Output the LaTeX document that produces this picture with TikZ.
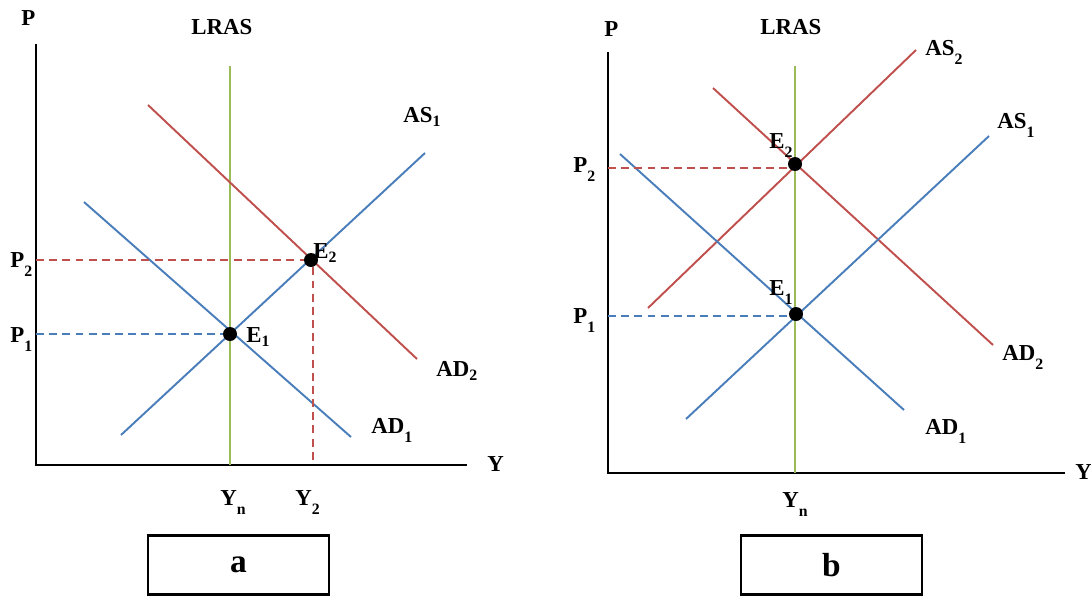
\documentclass[tikz,border=0pt]{standalone}
\usepackage{fontspec}
\setmainfont{Liberation Serif}
\definecolor{cblue}{HTML}{4A7EBB}
\definecolor{cred}{HTML}{C0504D}
\definecolor{cgreen}{HTML}{9BBB59}
\newcommand\subN[2]{#1\raisebox{-2.3pt}{\fontsize{9}{9}\selectfont #2}}
\newcommand\subL[2]{#1\raisebox{-5.3pt}{\fontsize{9}{9}\selectfont #2}}
\begin{document}
\begin{tikzpicture}[x=0.02cm,y=-0.02cm,
  lbl/.style={font=\fontsize{13}{14}\selectfont\bfseries, inner sep=0pt, anchor=base west},
  axisline/.style={black, line width=1.4pt},
  curve/.style={line width=1.1pt},
  lras/.style={cgreen, line width=1.1pt},
  guide/.style={line width=1.1pt, dash pattern=on 4.5pt off 3pt},
  eqdot/.style={circle, fill=black, inner sep=0pt, minimum size=14*0.02cm},
  caption/.style={draw=black, line width=1.4pt, minimum width=181*0.02cm, minimum height=59*0.02cm, font=\fontsize{19}{20}\selectfont\bfseries, inner sep=0pt}]
\useasboundingbox (0,0) rectangle (1091,599);

% ---------- Panel a ----------
\coordinate (aO) at (36,465);
\coordinate (aYtop) at (36,44);
\coordinate (aXend) at (467,465);
\draw[axisline] (aYtop) -- (aO) -- (aXend);
\coordinate (aL1) at (230,66);
\coordinate (aL2) at (230,465);
\draw[lras] (aL1) -- (aL2);
\coordinate (aAS1s) at (121,435);
\coordinate (aAS1e) at (425,153);
\draw[curve, cblue] (aAS1s) -- (aAS1e);
\coordinate (aAD1s) at (84,202);
\coordinate (aAD1e) at (351,437);
\draw[curve, cblue] (aAD1s) -- (aAD1e);
\coordinate (aAD2s) at (148,105);
\coordinate (aAD2e) at (417,359);
\draw[curve, cred] (aAD2s) -- (aAD2e);
\node[eqdot] (aE1) at (230,334) {};
\node[eqdot] (aE2) at (311,260) {};
\coordinate (aP1) at (36,334);
\coordinate (aP2) at (36,260);
\coordinate (aY2) at (313,465);
\draw[guide, cblue] (aP1) -- (aE1.west);
\draw[guide, cred] (aP2) -- (aE2.west);
\draw[guide, cred] (aE2.south -| aY2) -- (aY2);

\node[lbl] (aPlab) at (21,25) {P};
\node[lbl] (aLRAS) at (191,34) {LRAS};
\node[lbl] (aP2lab) at (10,267) {\subL{P}{2}};
\node[lbl] (aP1lab) at (10,342) {\subL{P}{1}};
\node[lbl] (aE2lab) at (313,258) {\subN{E}{2}};
\node[lbl] (aE1lab) at (246,342) {\subN{E}{1}};
\node[lbl] (aAS1lab) at (403,122) {\subN{AS}{1}};
\node[lbl] (aAD2lab) at (436,376) {\subN{AD}{2}};
\node[lbl] (aAD1lab) at (371,433) {\subL{AD}{1}};
\node[lbl] (aYlab) at (487,471) {Y};
\node[lbl] (aYnlab) at (220,505) {\subL{Y}{n}};
\node[lbl] (aY2lab) at (295,505) {\subL{Y}{2}};
\node[caption] (boxa) at (238.5,565) {a};

% ---------- Panel b ----------
\coordinate (bO) at (608,473);
\coordinate (bYtop) at (608,52);
\coordinate (bXend) at (1065,473);
\draw[axisline] (bYtop) -- (bO) -- (bXend);
\coordinate (bL1) at (795,66);
\coordinate (bL2) at (795,473);
\draw[lras] (bL1) -- (bL2);
\coordinate (bAS2s) at (648,308);
\coordinate (bAS2e) at (916,50);
\draw[curve, cred] (bAS2s) -- (bAS2e);
\coordinate (bAD2s) at (713,88);
\coordinate (bAD2e) at (993,345);
\draw[curve, cred] (bAD2s) -- (bAD2e);
\coordinate (bAS1s) at (686,419);
\coordinate (bAS1e) at (989,136);
\draw[curve, cblue] (bAS1s) -- (bAS1e);
\coordinate (bAD1s) at (620,154);
\coordinate (bAD1e) at (904,410);
\draw[curve, cblue] (bAD1s) -- (bAD1e);
\node[eqdot] (bE2) at (795,164) {};
\node[eqdot] (bE1) at (796,314) {};
\coordinate (bP2) at (608,168);
\coordinate (bP1) at (608,316);
\draw[guide, cred] (bP2) -- (bE2.west |- bP2);
\draw[guide, cblue] (bP1) -- (bE1.west |- bP1);

\node[lbl] (bPlab) at (604,36) {P};
\node[lbl] (bLRAS) at (760,34) {LRAS};
\node[lbl] (bP2lab) at (573,172) {\subL{P}{2}};
\node[lbl] (bP1lab) at (573,323) {\subL{P}{1}};
\node[lbl] (bE2lab) at (769,148) {\subL{E}{2}};
\node[lbl] (bE1lab) at (769,295) {\subL{E}{1}};
\node[lbl] (bAS2lab) at (925,55) {\subL{AS}{2}};
\node[lbl] (bAS1lab) at (997,128) {\subL{AS}{1}};
\node[lbl] (bAD2lab) at (1002,360) {\subL{AD}{2}};
\node[lbl] (bAD1lab) at (925,434) {\subL{AD}{1}};
\node[lbl] (bYlab) at (1075,479) {Y};
\node[lbl] (bYnlab) at (782,507) {\subL{Y}{n}};
\node[caption] (boxb) at (831.5,565) {b};
\end{tikzpicture}
\end{document}
